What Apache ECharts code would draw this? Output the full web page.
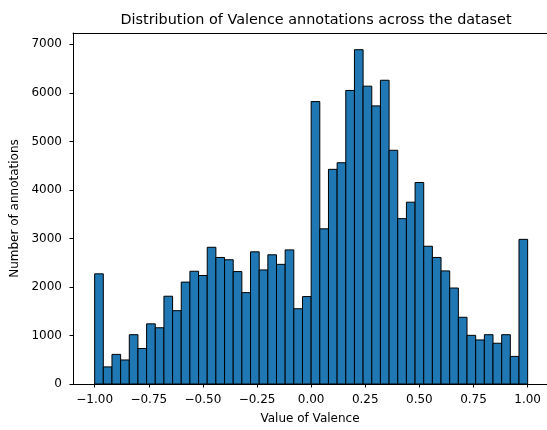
<!DOCTYPE html>
<html>
<head>
<meta charset="utf-8">
<script src="https://cdn.jsdelivr.net/npm/echarts@6/dist/echarts.min.js"></script>
<style>
  html, body { margin: 0; padding: 0; background: #fff; }
  #chart1 { width: 547px; height: 430px; }
</style>
</head>
<body>
<div id="chart1"></div>
<script>
// histogram: 50 bins of width 0.04 from -1 to 1
const binStart = -1;
const binWidth = 0.04;
const counts = [
  2270, 352, 610, 495, 1016, 732, 1240, 1159, 1809, 1511,
  2100, 2324, 2236, 2818, 2608, 2561, 2317, 1883, 2724, 2351,
  2663, 2466, 2764, 1551, 1802, 5820, 3198, 4424, 4560, 6050,
  6890, 6138, 5732, 6260, 4817, 3408, 3747, 4153, 2839, 2608,
  2331, 1978, 1375, 1003, 908, 1016, 840, 1016, 569, 2981
];
const xTicks = [-1, -0.75, -0.5, -0.25, 0, 0.25, 0.5, 0.75, 1];
const yTicks = [0, 1000, 2000, 3000, 4000, 5000, 6000, 7000];

// the original figure is cut off just before the right spine (x = 1.1)
const xMin = -1.1;
const xMax = 1.0894;

let chart1;

const fmtX = (v) => {
  const s = Math.abs(v).toFixed(2);
  return v < 0 ? '\u2212' + s : s;
};

const getOptionChart1 = () => {
  const data = counts.map((c, i) => {
    const x0 = binStart + i * binWidth;
    return [x0, x0 + binWidth, c];
  });
  return {
    animation: false,
    textStyle: { fontFamily: 'DejaVu Sans' },
    title: {
      text: 'Distribution of Valence annotations across the dataset',
      left: 311,
      textAlign: 'center',
      top: 8,
      textStyle: { fontFamily: 'DejaVu Sans', fontSize: 14.4, fontWeight: 'normal', color: '#000' }
    },
    grid: {
      left: 73, top: 33, right: 0, bottom: 42,
      show: false
    },
    xAxis: [
      {
        type: 'value',
        min: xMin,
        max: xMax,
        name: 'Value of Valence',
        nameLocation: 'middle',
        nameGap: 29,
        nameTextStyle: { fontFamily: 'DejaVu Sans', fontSize: 12, color: '#000' },
        splitLine: { show: false },
        axisLine: { show: true, onZero: false, lineStyle: { color: '#000', width: 1 } },
        axisTick: { show: true, length: 3.5, lineStyle: { color: '#000' }, customValues: xTicks },
        axisLabel: {
          color: '#000', fontSize: 12, margin: 10, fontFamily: 'DejaVu Sans',
          customValues: xTicks, formatter: fmtX
        }
      },
      {
        // top spine
        type: 'value',
        position: 'top',
        min: xMin,
        max: xMax,
        splitLine: { show: false },
        axisLine: { show: true, onZero: false, lineStyle: { color: '#000', width: 1 } },
        axisTick: { show: false },
        axisLabel: { show: false }
      }
    ],
    yAxis: {
      type: 'value',
      min: 0,
      max: 7234,
      name: 'Number of annotations',
      nameLocation: 'middle',
      nameGap: 48,
      nameTextStyle: { fontFamily: 'DejaVu Sans', fontSize: 12, color: '#000' },
      splitLine: { show: false },
      axisLine: { show: true, onZero: false, lineStyle: { color: '#000', width: 1 } },
      axisTick: { show: true, length: 3.5, lineStyle: { color: '#000' }, customValues: yTicks },
      axisLabel: {
        color: '#000', fontSize: 12, margin: 11, fontFamily: 'DejaVu Sans',
        customValues: yTicks, formatter: (v) => String(v)
      }
    },
    series: [
      {
        type: 'custom',
        xAxisIndex: 0,
        encode: { x: [0, 1], y: 2 },
        data: data,
        renderItem: (params, api) => {
          const p0 = api.coord([api.value(0), api.value(2)]);
          const p1 = api.coord([api.value(1), 0]);
          return {
            type: 'rect',
            shape: { x: p0[0], y: p0[1], width: p1[0] - p0[0], height: p1[1] - p0[1] },
            style: { fill: '#1f77b4', stroke: '#000', lineWidth: 1 }
          };
        }
      }
    ]
  };
};

const initCharts = () => {
  chart1 = echarts.init(document.getElementById('chart1'));
  chart1.setOption(getOptionChart1());
};

document.addEventListener('DOMContentLoaded', function () {
  initCharts();
});

window.addEventListener('resize', function () {
  chart1.resize();
});
</script>
</body>
</html>
